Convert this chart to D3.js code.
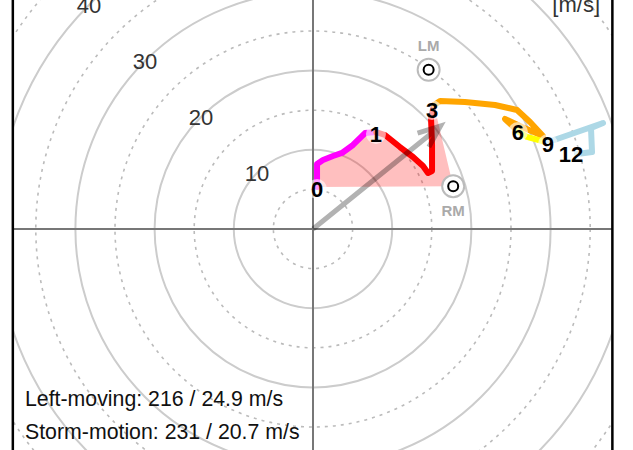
<!DOCTYPE html>
<html><head><meta charset="utf-8">
<script src="https://cdn.jsdelivr.net/npm/d3@7"></script>
<style>
html,body{margin:0;padding:0;background:#fff;}
svg{display:block;font-family:"Liberation Sans",Arial,Helvetica,sans-serif;}
</style></head><body>
<svg id="c" width="633" height="450"></svg>
<script>
// ---- data (m/s) ----
const ringsSolid = [10, 20, 30, 40, 50, 60];
const ringsDashed = [5, 15, 25, 35, 45, 55];
const ringLabels = [10, 20, 30, 40];
const seg01 = [[0.51,5.30],[0.51,8.21],[1.26,8.71],[2.53,9.22],[3.66,9.60],[5.05,10.61],[6.57,12.12],[7.95,12.25]];
const seg13 = [[7.95,12.25],[9.09,11.87],[10.98,10.35],[12.63,9.09],[13.89,7.95],[14.52,7.07],[15.03,7.32],[15.03,10.61],[14.90,14.02],[15.28,15.66]];
const seg36 = [[15.28,15.66],[16.04,16.16],[19.19,16.04],[22.98,15.66],[25.76,15.03],[27.40,13.51],[29.04,11.74],[26.39,12.88],[24.24,13.89],[25.88,12.37]];
const seg69 = [[25.88,12.37],[27.02,11.62],[29.42,10.98]];
const seg912 = [[29.42,10.98],[30.81,11.36],[36.62,13.38],[35.10,12.75],[35.23,9.72],[33.33,9.47]];
const segColors = ["#ff00ff","#ff0000","#ffa500","#ffff00","#add8e6"];
const heightLabels = ["0","1","3","6","9","12"];
const heightLabelPos = [[0.51,5.05],[7.95,12.0],[15.03,15.03],[25.88,12.25],[29.67,10.73],[32.58,9.47]];
const rightMover = [17.7, 5.4];
const leftMover = [14.6, 20.1];
const stormMotion = [16.1, 13.0];
const infoLines = ["Left-moving: 216 / 24.9 m/s", "Storm-motion: 231 / 20.7 m/s"];
const unitLabel = "[m/s]";

// ---- scales ----
const k = 7.92, cx = 313, cy = 229;
const x = d3.scaleLinear().domain([-37.9, 37.8]).range([cx - 37.9*k, cx + 37.8*k]);
const y = d3.scaleLinear().domain([-30, 30]).range([cy + 30*k, cy - 30*k]);
const r = v => x(v) - x(0);

const svg = d3.select("#c");
const L = x(-37.9), R = x(37.8);
svg.append("defs").append("clipPath").attr("id","clip")
  .append("rect").attr("x",L).attr("y",-100).attr("width",R-L).attr("height",700);
const g = svg.append("g").attr("clip-path","url(#clip)");

g.selectAll("circle.dash").data(ringsDashed).join("circle")
  .attr("cx",x(0)).attr("cy",y(0)).attr("r",d=>r(d))
  .attr("fill","none").attr("stroke","#bbb").attr("stroke-width",1.6).attr("stroke-dasharray","3,5");
g.selectAll("circle.solid").data(ringsSolid).join("circle")
  .attr("cx",x(0)).attr("cy",y(0)).attr("r",d=>r(d))
  .attr("fill","none").attr("stroke","#ccc").attr("stroke-width",2);

// axes
g.append("line").attr("x1",L).attr("x2",R).attr("y1",y(0)).attr("y2",y(0)).attr("stroke","#777").attr("stroke-width",2);
g.append("line").attr("x1",x(0)).attr("x2",x(0)).attr("y1",-100).attr("y2",600).attr("stroke","#777").attr("stroke-width",2);

// ring labels
g.selectAll("text.rl").data(ringLabels).join("text")
  .attr("x",d=>x(-d*Math.SQRT1_2)).attr("y",d=>y(d*Math.SQRT1_2))
  .attr("text-anchor","middle").attr("dy","0.36em")
  .attr("font-size",22).attr("fill","#333").text(d=>d);

// SRH fill
const fillPts = [rightMover].concat(seg01, seg13.slice(1)).concat([rightMover]);
g.append("path").attr("d", d3.line().x(d=>x(d[0])).y(d=>y(d[1]))(fillPts))
  .attr("fill","rgba(255,0,0,0.25)").attr("stroke","none");

// hodograph
const line = d3.line().x(d=>x(d[0])).y(d=>y(d[1]));
[seg01,seg13,seg36,seg69,seg912].forEach((s,i)=>{
  g.append("path").attr("d",line(s)).attr("fill","none").attr("stroke",segColors[i])
   .attr("stroke-width",6).attr("stroke-linecap","round").attr("stroke-linejoin","round");
});

// storm motion arrow
const tx = x(stormMotion[0]), ty = y(stormMotion[1]);
const ang = Math.atan2(ty - y(0), tx - x(0)) + Math.PI;
const bl = 24, ba = 22*Math.PI/180;
const arrowPath = `M${x(0)},${y(0)}L${tx},${ty}M${tx+bl*Math.cos(ang+ba)},${ty+bl*Math.sin(ang+ba)}L${tx},${ty}L${tx+bl*Math.cos(ang-ba)},${ty+bl*Math.sin(ang-ba)}`;
g.append("path").attr("d",arrowPath).attr("fill","none").attr("stroke","rgba(0,0,0,0.3)")
  .attr("stroke-width",5).attr("stroke-linejoin","miter");

// height labels
const hl = g.selectAll("g.hl").data(heightLabels).join("g")
  .attr("transform",(d,i)=>`translate(${x(heightLabelPos[i][0])},${y(heightLabelPos[i][1])})`);
hl.append("circle").attr("r",10).attr("fill","#fff").attr("opacity",0.6);
hl.append("text").attr("text-anchor","middle").attr("dy","0.36em")
  .attr("font-size",22).attr("font-weight","bold").attr("fill","#000").text(d=>d);

// RM / LM markers
[[rightMover,"RM",1],[leftMover,"LM",-1]].forEach(([p,t,s])=>{
  const mx = x(p[0]), my = y(p[1]);
  g.append("circle").attr("cx",mx).attr("cy",my).attr("r",11).attr("fill","#fff").attr("stroke","#bbb").attr("stroke-width",2);
  g.append("circle").attr("cx",mx).attr("cy",my).attr("r",5).attr("fill","#fff").attr("stroke","#000").attr("stroke-width",2);
  g.append("text").attr("x",mx).attr("y",my + s*24).attr("dy","0.36em").attr("text-anchor","middle")
   .attr("font-size",15).attr("font-weight","bold").attr("fill","#aaa").text(t);
});

// frame
svg.append("line").attr("x1",L).attr("x2",L).attr("y1",-10).attr("y2",460).attr("stroke","#000").attr("stroke-width",2.5);
svg.append("line").attr("x1",R).attr("x2",R).attr("y1",-10).attr("y2",460).attr("stroke","#000").attr("stroke-width",2.5);

// texts
svg.append("text").attr("x",600).attr("y",12).attr("text-anchor","end").attr("font-size",22).attr("fill","#333").text(unitLabel);
svg.selectAll("text.info").data(infoLines).join("text")
  .attr("x",25).attr("y",(d,i)=>406+i*33).attr("font-size",21.3).attr("fill","#111").text(d=>d);
</script>
</body></html>
